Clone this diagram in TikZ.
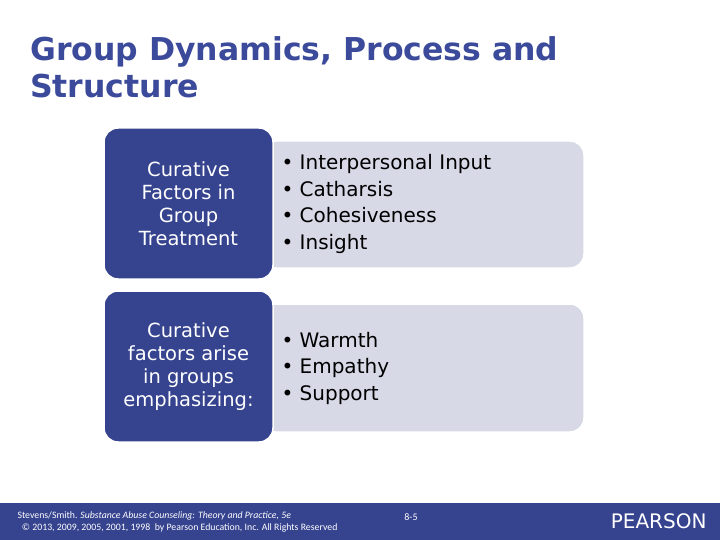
\documentclass[tikz,border=0pt]{standalone}
\usepackage{fontspec}
\setmainfont{DejaVu Sans}
\newfontfamily\foot{Carlito}
\definecolor{pblue}{HTML}{36438F}
\definecolor{plight}{HTML}{D7D9E7}
\definecolor{ptitle}{HTML}{3B4A9A}
\begin{document}
\begin{tikzpicture}[x=1pt,y=-1pt,
 darkbox/.style={fill=pblue,draw=white,line width=1.5pt,rounded corners=14pt},
 lightbox/.style={fill=plight,draw=white,line width=1.5pt,rounded corners=14pt},
 lefttxt/.style={text=white,align=center,font=\fontsize{19.5}{23}\selectfont},
 righttxt/.style={anchor=west,align=left,font=\fontsize{20}{26.5}\selectfont}]
\useasboundingbox[fill=white] (0,0) rectangle (720,540);
\node[anchor=north west,align=left,text=ptitle,font=\fontsize{31.5}{37}\bfseries\selectfont,inner sep=0pt] (title) at (30,36) {Group Dynamics, Process and\\Structure};
\path[lightbox] (262,141) rectangle (584,268);
\path[darkbox] (104,128) rectangle (273,279);
\node[lefttxt] (c1) at (188.5,203.5) {Curative\\Factors in\\Group\\Treatment};
\node[righttxt] (b1) at (278,204) {• Interpersonal Input\\• Catharsis\\• Cohesiveness\\• Insight};
\path[lightbox] (262,304) rectangle (584,432);
\path[darkbox] (104,291) rectangle (273,442);
\node[lefttxt] (c2) at (188.5,367) {Curative\\factors arise\\in groups\\emphasizing:};
\node[righttxt] (b2) at (278,368) {• Warmth\\• Empathy\\• Support};
\fill[pblue] (0,503) rectangle (720,540);
\node[anchor=west,text=white,align=left,font=\foot\fontsize{9.8}{12}\selectfont] (f1) at (14,522) {Stevens/Smith. \textit{Substance Abuse Counseling: Theory and Practice, 5e}\\\ \ © 2013, 2009, 2005, 2001, 1998 \ by Pearson Education, Inc. All Rights Reserved};
\node[text=white,font=\foot\fontsize{10}{12}\selectfont] (pg) at (411,517) {8-5};
\node[anchor=east,text=white,font=\fontsize{20}{22}\selectfont] (logo) at (710,521) {PEARSON};
\end{tikzpicture}
\end{document}
